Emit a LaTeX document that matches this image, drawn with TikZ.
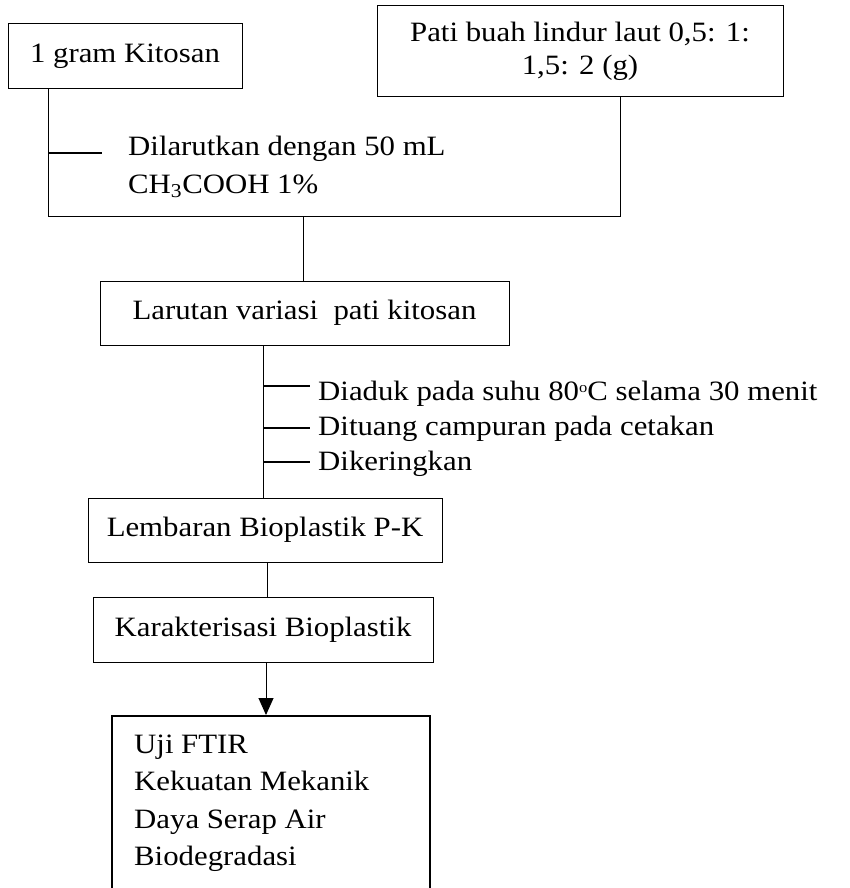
\documentclass[tikz,border=0pt]{standalone}
\usepackage{fontspec}
\setmainfont{Liberation Serif}[FakeStretch=1.1]
\usetikzlibrary{arrows.meta}
\newcommand\fs{\fontsize{28}{33}\selectfont}
\newcommand\degsup{\raisebox{0.62ex}{\fontsize{15}{15}\selectfont o}}
\begin{document}
\begin{tikzpicture}[x=1pt,y=-1pt,
  box/.style={draw, line width=1pt, inner sep=0pt, align=center, font=\fs},
  lbl/.style={anchor=base west, inner sep=0pt, font=\fs},
  conn/.style={line width=0.9pt},
  tickline/.style={line width=1.3pt}]
\useasboundingbox (0,0) rectangle (849,888);

% boxes
\node[box, minimum width=234pt, minimum height=65pt] (kit) at (125,56.5) {1 gram Kitosan};
\node[box, minimum width=406pt, minimum height=91pt] (pati) at (580,51.5) {Pati buah lindur laut 0,5: 1:\\1,5: 2 (g)};
\node[box, minimum width=409pt, minimum height=64pt] (lar) at (304.5,313) {Larutan variasi\ \ pati kitosan};
\node[box, minimum width=354pt, minimum height=64pt] (lem) at (265,530) {Lembaran Bioplastik P-K};
\node[box, minimum width=340pt, minimum height=65pt] (kar) at (263,629.5) {Karakterisasi Bioplastik};
\node[draw, line width=2pt, inner sep=0pt, minimum width=318pt, minimum height=190pt, anchor=north] (uji) at (271,715) {};

% texts
\node[lbl] (d1) at (128,155) {Dilarutkan dengan 50 mL};
\node[lbl] (d2) at (128,193) {CH\textsubscript{3}COOH 1\%};
\node[lbl] (s1) at (318,400) {Diaduk pada suhu 80\degsup C selama 30 menit};
\node[lbl] (s2) at (318,435) {Dituang campuran pada cetakan};
\node[lbl] (s3) at (318,470) {Dikeringkan};
\node[lbl] (u1) at (134,753) {Uji FTIR};
\node[lbl] (u2) at (134,790) {Kekuatan Mekanik};
\node[lbl] (u3) at (134,828) {Daya Serap Air};
\node[lbl] (u4) at (134,865) {Biodegradasi};

% junction coordinates
\coordinate (jl) at (48,216);
\coordinate (jr) at (620,216);
\coordinate (jc) at (303,216);
\coordinate (t0) at (48,153);
\coordinate (t1) at (102,153);
\coordinate (v2) at (263,400);
\coordinate (v3) at (267,580);
\coordinate (v4) at (266,690);
\coordinate (a1) at (263,386);
\coordinate (b1) at (310,386);
\coordinate (a2) at (263,428);
\coordinate (b2) at (310,428);
\coordinate (a3) at (263,462);
\coordinate (b3) at (310,462);

% connectors
\draw[conn] (kit.south -| jl) -- (jl) -- (jr) -- (pati.south -| jr);
\draw[tickline] (t0) -- (t1);
\draw[conn] (jc) -- (lar.north -| jc);
\draw[conn] (lar.south -| v2) -- (lem.north -| v2);
\draw[tickline] (a1) -- (b1);
\draw[tickline] (a2) -- (b2);
\draw[tickline] (a3) -- (b3);
\draw[conn] (lem.south -| v3) -- (kar.north -| v3);
\draw[conn, -{Triangle[length=17pt,width=15pt]}] (kar.south -| v4) -- (uji.north -| v4);
\end{tikzpicture}
\end{document}
